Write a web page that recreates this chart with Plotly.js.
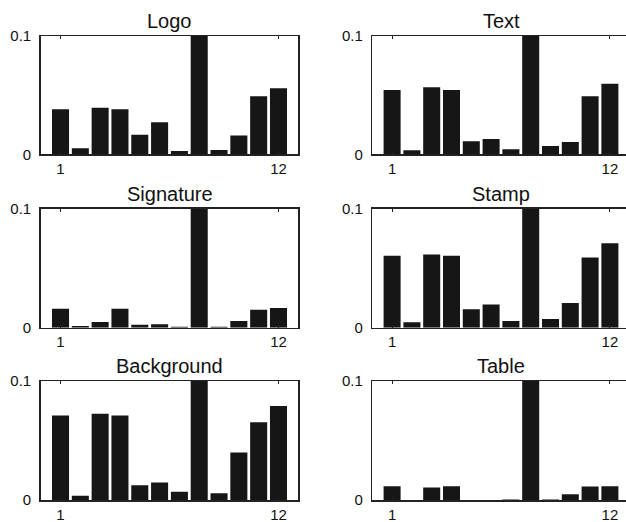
<!DOCTYPE html>
<html>
<head>
<meta charset="utf-8">
<script src="https://cdn.plot.ly/plotly-3.0.1.min.js"></script>
<style>html,body{margin:0;padding:0;background:#fff;}#chart{width:626px;height:522px;}</style>
</head>
<body>
<div id="chart"></div>
<script>
// bar positions
const bins = [1,2,3,4,5,6,7,8,9,10,11,12];
// panel titles
const titles = ["Logo", "Text", "Signature", "Stamp", "Background", "Table"];
// values per panel (bin 8 exceeds the 0.1 axis limit and is clipped)
const logo       = [0.038, 0.0051, 0.0394, 0.038, 0.0166, 0.027, 0.0028, 0.2, 0.0037, 0.0158, 0.049, 0.0558];
const text       = [0.0544, 0.0034, 0.0566, 0.0544, 0.011, 0.013, 0.0042, 0.2, 0.007, 0.0104, 0.049, 0.0597];
const signature  = [0.016, 0.0014, 0.0048, 0.016, 0.0025, 0.0028, 0.0008, 0.2, 0.0008, 0.0056, 0.0151, 0.0165];
const stamp      = [0.0605, 0.0045, 0.0616, 0.0605, 0.0154, 0.0196, 0.0056, 0.2, 0.0073, 0.0207, 0.059, 0.0709];
const background = [0.0711, 0.0036, 0.0725, 0.0711, 0.0123, 0.0148, 0.007, 0.2, 0.0056, 0.040, 0.0653, 0.079];
const table      = [0.0115, 0, 0.0104, 0.0115, 0, 0, 0.0005, 0.2, 0.0005, 0.0048, 0.0113, 0.0115];
const xTickVals = [1, 12];
const xTickText = ["1", "12"];
const yTickVals = [0, 0.1];
const yTickText = ["0", "0.1"];

const series = [logo, text, signature, stamp, background, table];
const W = 626, H = 522;
const colDom = [[40.7/W, 298.3/W], [372.3/W, 1]];
const colRange = [[0, 13], [0, (626-372.3)/19.8]];
const rowPx = [[36, 154.3], [208.7, 327.7], [381, 500]];

const data = [];
const layout = {
  width: W, height: H,
  margin: {l:0, r:0, t:0, b:0},
  paper_bgcolor: '#fff', plot_bgcolor: '#fff',
  showlegend: false,
  font: {family: 'Liberation Sans, Arial, sans-serif', color: '#111', size: 15},
  annotations: []
};

series.forEach((vals, i) => {
  const r = Math.floor(i/2), c = i % 2;
  const n = i + 1;
  const xa = 'xaxis' + (n === 1 ? '' : n), ya = 'yaxis' + (n === 1 ? '' : n);
  const xref = 'x' + (n === 1 ? '' : n), yref = 'y' + (n === 1 ? '' : n);
  data.push({
    type: 'bar', x: bins, y: vals, width: 0.86,
    marker: {color: '#161616', line: {width: 0}},
    xaxis: xref, yaxis: yref, hoverinfo: 'none'
  });
  const yd = [1 - rowPx[r][1]/H, 1 - rowPx[r][0]/H];
  layout[xa] = {
    domain: colDom[c], range: colRange[c], anchor: yref,
    tickvals: xTickVals, ticktext: xTickText,
    ticks: 'inside', ticklen: 3, tickcolor: '#222', tickwidth: 1,
    showline: true, linecolor: '#222', linewidth: 1.5, mirror: 'allticks',
    showgrid: false, zeroline: false, fixedrange: true,
    tickfont: {size: 15, color: '#111'}, ticklabelstandoff: 0
  };
  layout[ya] = {
    domain: yd, range: [0, 0.1], anchor: xref,
    tickvals: yTickVals, ticktext: yTickText,
    ticks: 'inside', ticklen: 3, tickcolor: '#222', tickwidth: 1,
    showline: true, linecolor: '#222', linewidth: 1.5, mirror: c === 0 ? 'allticks' : false,
    showgrid: false, zeroline: false, fixedrange: true,
    tickfont: {size: 15, color: '#111'}, ticklabelstandoff: 5
  };
  layout.annotations.push({
    text: titles[i], xref: 'paper', yref: 'paper',
    x: (colDom[c][0]*W + (c === 0 ? 298.3 : 629.8))/2/W,
    y: yd[1], yanchor: 'bottom', xanchor: 'center', yshift: 2,
    showarrow: false, font: {size: 20, color: '#111'}
  });
});

Plotly.newPlot('chart', data, layout, {staticPlot: true});
</script>
</body>
</html>
